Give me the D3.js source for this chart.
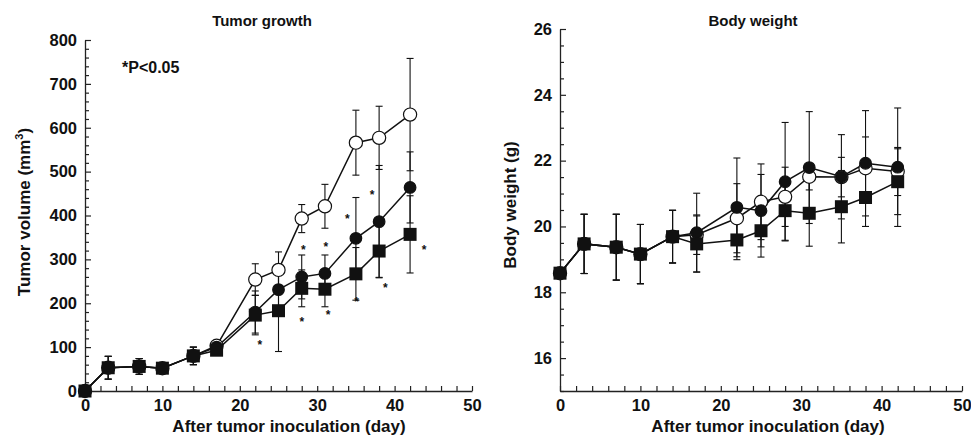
<!DOCTYPE html>
<meta charset="utf-8">
<script src="https://d3js.org/d3.v7.min.js"></script>
<style>
  body { margin: 0; background: #fff; }
  svg text { font-family: "Liberation Sans", Arial, Helvetica, sans-serif; font-weight: bold; fill: #111; }
</style>
<body>
<div id="my_dataviz"></div>
<script>
// days of measurement
var days = [0, 3, 7, 10, 14, 17, 22, 25, 28, 31, 35, 38, 42];

// tumor volume (mm3), mean and error per group
var tumorOpen      = [0, 53, 56, 52, 80, 103, 254, 276, 393, 421, 566, 577, 630];
var tumorOpenErr   = [0, 26, 18, 10, 20, 12, 36, 41, 32, 50, 74, 72, 128];
var tumorFilled    = [0, 53, 56, 52, 80, 100, 180, 231, 260, 268, 348, 386, 464];
var tumorFilledErr = [0, 26, 18, 10, 20, 12, 48, 40, 50, 42, 93, 128, 81];
var tumorSquare    = [0, 53, 56, 52, 80, 93, 173, 183, 234, 232, 267, 319, 357];
var tumorSquareErr = [0, 26, 18, 10, 20, 12, 45, 93, 42, 40, 60, 60, 88];

// significance marks (day, volume)
var sigDays = [22.6, 28.2, 28.0, 31.1, 31.4, 33.9, 35.1, 37.1, 38.8, 43.8];
var sigVals = [109, 326, 162, 333, 178, 396, 207, 451, 239, 326];

// body weight (g)
var weightOpen      = [18.58, 19.47, 19.37, 19.16, 19.69, 19.75, 20.25, 20.75, 20.9, 21.51, 21.5, 21.77, 21.67];
var weightOpenErr   = [0, 0.9, 1.0, 0.9, 0.8, 0.6, 1.05, 1.15, 0.9, 0.4, 0.6, 0.95, 0.73];
var weightFilled    = [18.58, 19.47, 19.37, 19.16, 19.69, 19.81, 20.58, 20.48, 21.36, 21.79, 21.51, 21.92, 21.8];
var weightFilledErr = [0, 0.9, 1.0, 0.9, 0.8, 1.2, 1.5, 1.1, 1.8, 1.7, 1.28, 1.6, 1.8];
var weightSquare    = [18.58, 19.47, 19.37, 19.16, 19.69, 19.47, 19.59, 19.87, 20.48, 20.40, 20.6, 20.88, 21.36];
var weightSquareErr = [0, 0.9, 1.0, 0.9, 0.8, 0.85, 0.6, 0.8, 0.9, 1.0, 1.1, 0.88, 1.0];

// tick settings
var xTicks = d3.range(0, 51, 2);
var xLabels = [0, 10, 20, 30, 40, 50];
var tumorTicks = d3.range(0, 801, 20);
var tumorLabels = [0, 100, 200, 300, 400, 500, 600, 700, 800];
var weightTicks = d3.range(15, 26.01, 0.5);
var weightLabels = [16, 18, 20, 22, 24, 26];

var svg = d3.select("#my_dataviz")
  .append("svg")
  .attr("width", 971)
  .attr("height", 440);

function zip(vals, errs) {
  return days.map(function (d, i) { return { day: d, v: vals[i], e: errs[i] }; });
}

function drawPanel(p) {
  var x = d3.scaleLinear().domain([0, 50]).range([p.x0, p.x1]);
  var y = d3.scaleLinear().domain(p.yDomain).range([391, p.yTop]);
  var g = svg.append("g");

  // x axis
  var xAxis = g.append("g")
    .attr("transform", "translate(0,391)")
    .call(d3.axisBottom(x).tickValues(xTicks).tickSizeInner(-5).tickSizeOuter(0).tickPadding(8)
      .tickFormat(function (d) { return xLabels.indexOf(d) >= 0 ? d : ""; }));
  xAxis.selectAll("text").style("font-size", "16.5px").style("font-weight", "bold");

  // y axis
  var yAxis = g.append("g")
    .attr("transform", "translate(" + p.x0 + ",0)")
    .call(d3.axisLeft(y).tickValues(p.yTicks).tickSizeInner(-4).tickSizeOuter(0).tickPadding(8)
      .tickFormat(function (d) { return p.yLabels.indexOf(Math.round(d * 100) / 100) >= 0 ? d : ""; }));
  yAxis.selectAll("text").style("font-size", "16.5px").style("font-weight", "bold");
  yAxis.selectAll(".tick line").attr("x2", function (d) { return p.yLabels.indexOf(d) >= 0 ? 6 : 4; });

  [xAxis, yAxis].forEach(function (a) {
    a.select(".domain").attr("stroke", "#222").attr("stroke-width", 1.3);
    a.selectAll(".tick line").attr("stroke", "#222").attr("stroke-width", 1.2);
    a.selectAll("text").style("fill", "#111");
  });

  // title & labels
  g.append("text").attr("x", p.titleX).attr("y", 26).attr("text-anchor", "middle")
    .style("font-size", "15px").text(p.title);
  g.append("text").attr("x", p.xLabelX).attr("y", 432).attr("text-anchor", "middle")
    .style("font-size", "17px").text("After tumor inoculation (day)");
  var yl = g.append("text")
    .attr("transform", "translate(" + p.yLabelX + "," + p.yLabelY + ") rotate(-90)")
    .attr("text-anchor", "middle")
    .style("font-size", "17px");
  yl.append("tspan").text(p.yLabel);
  if (p.sup) {
    yl.append("tspan").attr("dy", -7).style("font-size", "11px").text(p.sup);
    yl.append("tspan").attr("dy", 7).text(")");
  }

  var line = d3.line().x(function (d) { return x(d.day); }).y(function (d) { return y(d.v); });

  p.series.forEach(function (s) {
    g.append("path").datum(s.data)
      .attr("fill", "none").attr("stroke", "#111").attr("stroke-width", 1.5)
      .attr("d", line);
  });

  p.series.forEach(function (s) {
    // error bars
    var eb = g.append("g").attr("stroke", "#111").attr("stroke-width", 1.1);
    var withErr = s.data.filter(function (d) { return d.e > 0; });
    eb.selectAll(".bar").data(withErr).enter().append("line")
      .attr("x1", function (d) { return x(d.day); }).attr("x2", function (d) { return x(d.day); })
      .attr("y1", function (d) { return y(d.v - d.e); }).attr("y2", function (d) { return y(d.v + d.e); });
    eb.selectAll(".capt").data(withErr).enter().append("line")
      .attr("x1", function (d) { return x(d.day) - 3.5; }).attr("x2", function (d) { return x(d.day) + 3.5; })
      .attr("y1", function (d) { return y(d.v + d.e); }).attr("y2", function (d) { return y(d.v + d.e); });
    eb.selectAll(".capb").data(withErr).enter().append("line")
      .attr("x1", function (d) { return x(d.day) - 3.5; }).attr("x2", function (d) { return x(d.day) + 3.5; })
      .attr("y1", function (d) { return y(d.v - d.e); }).attr("y2", function (d) { return y(d.v - d.e); });
  });

  p.series.forEach(function (s) {
    if (s.shape === "square") {
      g.selectAll(null).data(s.data).enter().append("rect")
        .attr("x", function (d) { return x(d.day) - 6.5; })
        .attr("y", function (d) { return y(d.v) - 6.5; })
        .attr("width", 13).attr("height", 13)
        .attr("fill", "#111");
    } else {
      g.selectAll(null).data(s.data).enter().append("circle")
        .attr("cx", function (d) { return x(d.day); })
        .attr("cy", function (d) { return y(d.v); })
        .attr("r", s.shape === "open" ? 6.6 : 5.8)
        .attr("fill", s.shape === "open" ? "#fff" : "#111")
        .attr("stroke", "#111").attr("stroke-width", 1.2);
    }
  });

  return { x: x, y: y, g: g };
}

var left = drawPanel({
  x0: 85, x1: 472, yTop: 40, yDomain: [0, 800],
  yTicks: tumorTicks, yLabels: tumorLabels,
  title: "Tumor growth", titleX: 262, xLabelX: 289,
  yLabel: "Tumor volume (mm", sup: "3", yLabelX: 30, yLabelY: 212,
  series: [
    { shape: "open", data: zip(tumorOpen, tumorOpenErr) },
    { shape: "filled", data: zip(tumorFilled, tumorFilledErr) },
    { shape: "square", data: zip(tumorSquare, tumorSquareErr) }
  ]
});

// significance asterisks
left.g.selectAll(".sig").data(sigDays).enter().append("text")
  .attr("x", function (d) { return left.x(d); })
  .attr("y", function (d, i) { return left.y(sigVals[i]) + 6; })
  .attr("text-anchor", "middle")
  .style("font-size", "12px")
  .text("*");

left.g.append("text").attr("x", 122).attr("y", 73).style("font-size", "16px").text("*P<0.05");

drawPanel({
  x0: 560, x1: 962, yTop: 29, yDomain: [15, 26],
  yTicks: weightTicks, yLabels: weightLabels,
  title: "Body weight", titleX: 753, xLabelX: 768,
  yLabel: "Body weight (g)", yLabelX: 516, yLabelY: 205,
  series: [
    { shape: "open", data: zip(weightOpen, weightOpenErr) },
    { shape: "filled", data: zip(weightFilled, weightFilledErr) },
    { shape: "square", data: zip(weightSquare, weightSquareErr) }
  ]
});
</script>
</body>
